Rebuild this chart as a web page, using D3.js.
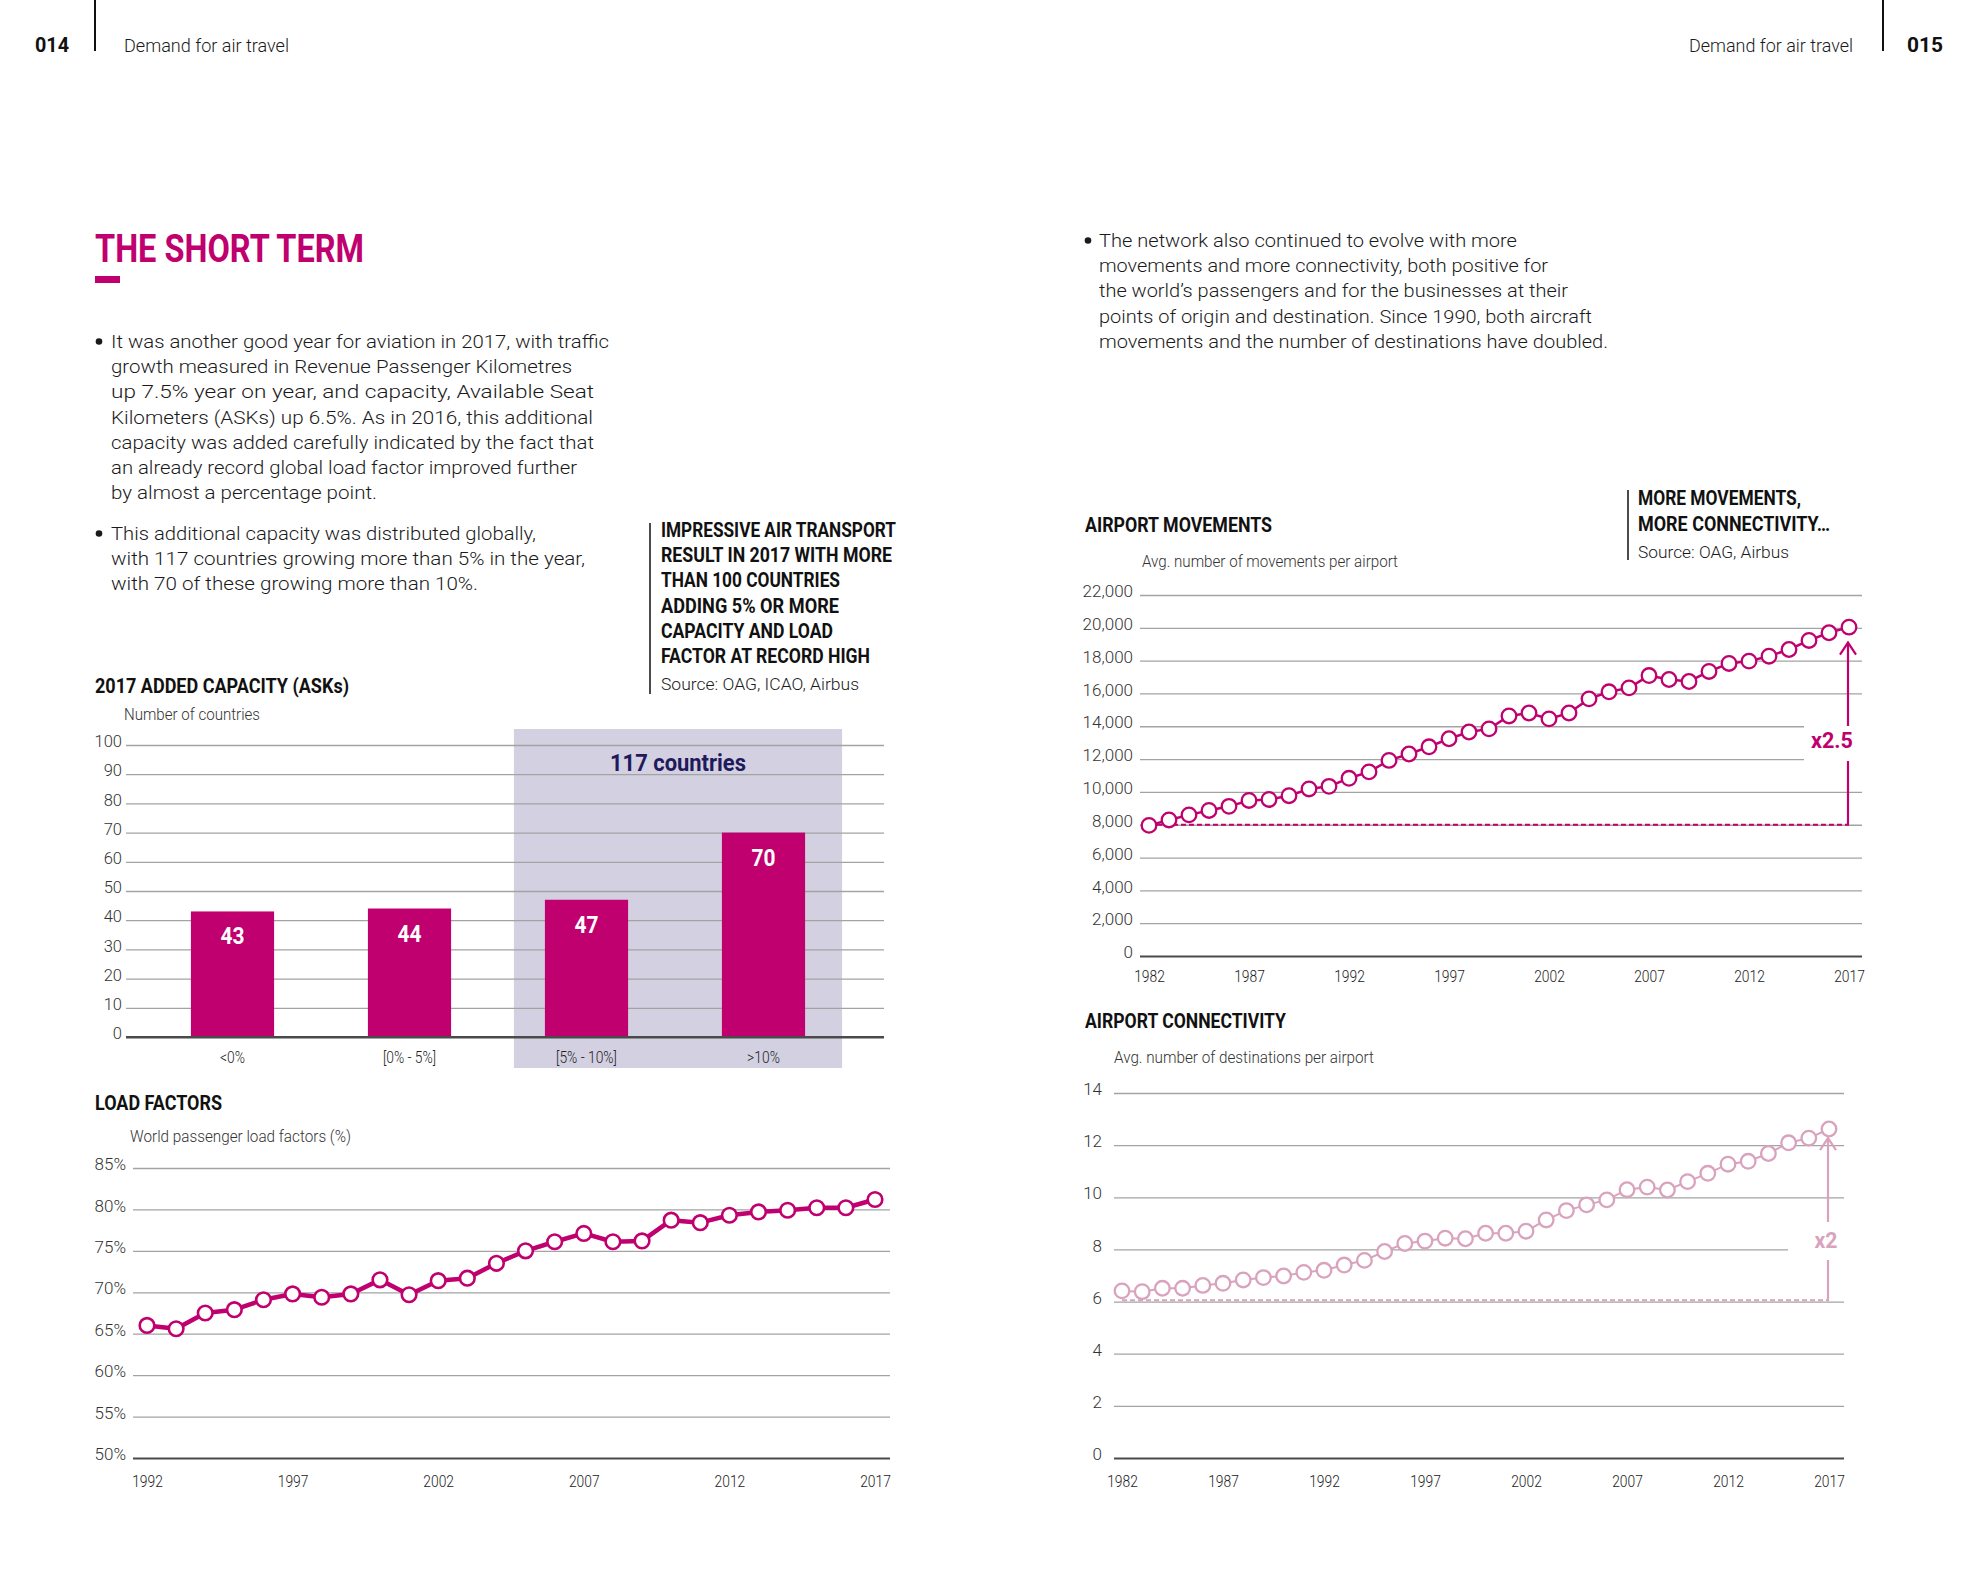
<!DOCTYPE html>
<html><head><meta charset="utf-8">
<script src="https://cdn.jsdelivr.net/npm/d3@7"></script>
<style>
body{margin:0;background:#fff;}
svg{display:block;}
</style></head><body>
<svg id="c" width="1969" height="1575"></svg>
<script>
// ---------- DATA ----------
const barCategories = ["<0%", "[0% - 5%]", "[5% - 10%]", ">10%"];
const barValues = [43, 44, 47, 70];
const barTicks = [0, 10, 20, 30, 40, 50, 60, 70, 80, 90, 100];

const lfYears = [1992,1993,1994,1995,1996,1997,1998,1999,2000,2001,2002,2003,2004,2005,2006,2007,2008,2009,2010,2011,2012,2013,2014,2015,2016,2017];
const lfValues = [66.0,65.6,67.5,67.9,69.1,69.8,69.4,69.8,71.5,69.7,71.4,71.7,73.5,75.0,76.1,77.1,76.1,76.2,78.7,78.4,79.3,79.7,79.9,80.2,80.2,81.2];
const lfTicks = [50, 55, 60, 65, 70, 75, 80, 85];
const lfYearTicks = [1992, 1997, 2002, 2007, 2012, 2017];

const netYears = [1982,1983,1984,1985,1986,1987,1988,1989,1990,1991,1992,1993,1994,1995,1996,1997,1998,1999,2000,2001,2002,2003,2004,2005,2006,2007,2008,2009,2010,2011,2012,2013,2014,2015,2016,2017];
const mvValues = [7960,8290,8600,8870,9120,9480,9540,9770,10180,10340,10830,11220,11920,12310,12750,13240,13650,13840,14630,14810,14450,14810,15670,16100,16340,17090,16850,16730,17340,17830,17970,18270,18680,19230,19700,20040];
const mvTicks = [0, 2000, 4000, 6000, 8000, 10000, 12000, 14000, 16000, 18000, 20000, 22000];
const cnValues = [6.41,6.38,6.51,6.51,6.62,6.70,6.83,6.92,6.98,7.12,7.20,7.40,7.58,7.92,8.23,8.32,8.43,8.41,8.62,8.62,8.70,9.13,9.49,9.71,9.90,10.29,10.39,10.28,10.60,10.92,11.27,11.38,11.68,12.09,12.27,12.62];
const cnTicks = [0, 2, 4, 6, 8, 10, 12, 14];
const netYearTicks = [1982, 1987, 1992, 1997, 2002, 2007, 2012, 2017];

const mvBase = 8000, mvArrowTop = 19100, mvMultiple = "x2.5";
const cnBase = 6.05, cnArrowTop = 12.27, cnMultiple = "x2";

// ---------- STYLE ----------
const MAG = "#c0006e";
const PALE = "#d9a2bd";
const NAVY = "#1f1a5c";
const SHADE = "#d2d0e1";
const LIGHT = "Roboto, 'Liberation Sans', Arial, sans-serif";
const BOLD = "Roboto, 'Liberation Sans', Arial, sans-serif";

const svg = d3.select("#c").append("g");

function T(x, y, str, o = {}) {
  const t = svg.append("text").attr("x", x).attr("y", y).text(str)
    .attr("font-family", o.bold ? BOLD : LIGHT)
    .attr("font-weight", o.bold ? 700 : 300)
    .attr("font-size", o.size || 19)
    .attr("fill", o.fill || "#1a1a1a")
    .attr("text-anchor", o.anchor || "start");
  if (o.w) t.attr("textLength", o.w).attr("lengthAdjust", "spacingAndGlyphs");
  return t;
}

// ---------- PAGE HEADERS ----------
T(35, 52, "014", {bold: true, size: 21, w: 34, fill: "#111"});
svg.append("line").attr("x1", 95).attr("x2", 95).attr("y1", 0).attr("y2", 51).attr("stroke", "#111").attr("stroke-width", 2);
T(124, 52, "Demand for air travel", {size: 19, w: 165});
T(1853, 52, "Demand for air travel", {size: 19, w: 164, anchor: "end"});
svg.append("line").attr("x1", 1883).attr("x2", 1883).attr("y1", 0).attr("y2", 51).attr("stroke", "#111").attr("stroke-width", 2);
T(1907, 52, "015", {bold: true, size: 21, w: 36, fill: "#111"});

// ---------- TITLE ----------
T(95, 262, "THE SHORT TERM", {bold: true, size: 38, w: 269, fill: MAG});
svg.append("rect").attr("x", 95).attr("y", 276).attr("width", 25).attr("height", 7).attr("fill", MAG);

// ---------- BODY TEXT ----------
const bullet1 = [
  ["It was another good year for aviation in 2017, with traffic", 498],
  ["growth measured in Revenue Passenger Kilometres", 461],
  ["up 7.5% year on year, and capacity, Available Seat", 483],
  ["Kilometers (ASKs) up 6.5%. As in 2016, this additional", 482],
  ["capacity was added carefully indicated by the fact that", 483],
  ["an already record global load factor improved further", 466],
  ["by almost a percentage point.", 266]
];
const bullet2 = [
  ["This additional capacity was distributed globally,", 425],
  ["with 117 countries growing more than 5% in the year,", 474],
  ["with 70 of these growing more than 10%.", 367]
];
const bullet3 = [
  ["The network also continued to evolve with more", 418],
  ["movements and more connectivity, both positive for", 449],
  ["the world\u2019s passengers and for the businesses at their", 469],
  ["points of origin and destination. Since 1990, both aircraft", 493],
  ["movements and the number of destinations have doubled.", 509]
];
function bulletBlock(lines, bx, tx, y0) {
  svg.append("circle").attr("cx", bx).attr("cy", y0 - 6.5).attr("r", 3.3).attr("fill", "#1a1a1a");
  lines.forEach((l, i) => T(tx, y0 + i * 25.2, l[0], {size: 19, w: l[1]}));
}
bulletBlock(bullet1, 99, 111, 348);
bulletBlock(bullet2, 99, 111, 540);
bulletBlock(bullet3, 1088, 1099, 247);

// ---------- CALLOUTS ----------
svg.append("line").attr("x1", 650).attr("x2", 650).attr("y1", 523).attr("y2", 694).attr("stroke", "#111").attr("stroke-width", 1.5);
const callout1 = [
  ["IMPRESSIVE AIR TRANSPORT", 235],
  ["RESULT IN 2017 WITH MORE", 231],
  ["THAN 100 COUNTRIES", 179],
  ["ADDING 5% OR MORE", 178],
  ["CAPACITY AND LOAD", 172],
  ["FACTOR AT RECORD HIGH", 209]
];
callout1.forEach((l, i) => T(661, 537 + i * 25.2, l[0], {bold: true, size: 20, w: l[1], fill: "#111"}));
T(661, 690, "Source: OAG, ICAO, Airbus", {size: 16.5, w: 198});

svg.append("line").attr("x1", 1628).attr("x2", 1628).attr("y1", 490).attr("y2", 560).attr("stroke", "#111").attr("stroke-width", 1.5);
T(1638, 505, "MORE MOVEMENTS,", {bold: true, size: 20, w: 163, fill: "#111"});
T(1638, 531, "MORE CONNECTIVITY\u2026", {bold: true, size: 20, w: 192, fill: "#111"});
T(1638, 558, "Source: OAG, Airbus", {size: 16.5, w: 151});

// ---------- AXIS HELPERS ----------
function leftGrid(scale, ticks, x0, x1, pad, fmt, size, color) {
  const ax = d3.axisLeft(scale).tickValues(ticks).tickSize(-(x1 - x0)).tickPadding(pad).tickFormat(fmt);
  const a = svg.append("g").attr("transform", `translate(${x0},0)`).call(ax);
  a.select(".domain").remove();
  a.selectAll(".tick line").attr("stroke", "#a3a3a3").attr("stroke-width", 1.3);
  a.selectAll(".tick").filter(d => d === ticks[0]).select("line").attr("stroke", "#4a4a4a").attr("stroke-width", 2.2);
  a.selectAll(".tick text").attr("font-family", LIGHT).attr("font-weight", 300)
    .attr("font-size", size).attr("fill", color || "#333").attr("dy", "0.1em");
  return a;
}
function bottomLabels(scale, ticks, y, size) {
  const ax = d3.axisBottom(scale).tickValues(ticks).tickSize(0).tickPadding(0).tickFormat(d3.format("d"));
  const a = svg.append("g").attr("transform", `translate(0,${y})`).call(ax);
  a.select(".domain").remove();
  a.selectAll(".tick text").attr("font-family", LIGHT).attr("font-weight", 300)
    .attr("font-size", size).attr("fill", "#222").attr("dy", "0").attr("y", 0)
    .attr("transform", "scale(0.84,1)");
  return a;
}

// ---------- BAR CHART ----------
T(95, 693, "2017 ADDED CAPACITY (ASKs)", {bold: true, size: 20, w: 254, fill: "#111"});
T(124, 720, "Number of countries", {size: 16.5, w: 136, fill: "#333"});

const yBar = d3.scaleLinear().domain([0, 100]).range([1037, 745]);
const xBar = d3.scaleBand().domain(barCategories).range([144, 852]).paddingInner(0.53).paddingOuter(0.265);

svg.append("rect")
  .attr("x", xBar(barCategories[2]) - 31)
  .attr("y", yBar(100) - 16)
  .attr("width", xBar(barCategories[3]) + xBar.bandwidth() + 37 - (xBar(barCategories[2]) - 31))
  .attr("height", yBar(0) + 31 - (yBar(100) - 16))
  .attr("fill", SHADE);
T((xBar(barCategories[2]) - 31 + xBar(barCategories[3]) + xBar.bandwidth() + 37) / 2, 771, "117 countries",
  {bold: true, size: 24, w: 136, fill: NAVY, anchor: "middle"});

leftGrid(yBar, barTicks, 126, 884, 4, d3.format("d"), 16.5);

svg.append("g").selectAll("rect").data(barValues).join("rect")
  .attr("x", (d, i) => xBar(barCategories[i]))
  .attr("y", d => yBar(d))
  .attr("width", xBar.bandwidth())
  .attr("height", d => yBar(0) - yBar(d))
  .attr("fill", MAG);
svg.append("g").selectAll("text").data(barValues).join("text")
  .attr("x", (d, i) => xBar(barCategories[i]) + xBar.bandwidth() / 2)
  .attr("y", d => yBar(d) + 33)
  .attr("text-anchor", "middle").attr("font-family", BOLD).attr("font-weight", 700)
  .attr("font-size", 24).attr("fill", "#fff")
  .attr("textLength", 24).attr("lengthAdjust", "spacingAndGlyphs")
  .text(d => d);
svg.append("line").attr("x1", 126).attr("x2", 884).attr("y1", yBar(0)).attr("y2", yBar(0)).attr("stroke", "#4a4a4a").attr("stroke-width", 2.2);
svg.append("g").selectAll("text").data(barCategories).join("text")
  .attr("transform", d => `translate(${xBar(d) + xBar.bandwidth() / 2},1063) scale(0.84,1)`)
  .attr("text-anchor", "middle").attr("font-family", LIGHT).attr("font-weight", 300)
  .attr("font-size", 16.5).attr("fill", "#222").text(d => d);

// ---------- LOAD FACTORS ----------
T(95, 1110, "LOAD FACTORS", {bold: true, size: 20, w: 127, fill: "#111"});
T(130, 1142, "World passenger load factors (%)", {size: 16.5, w: 221, fill: "#333"});
const xLf = d3.scaleLinear().domain([1992, 2017]).range([147, 875]);
const yLf = d3.scaleLinear().domain([50, 85]).range([1458, 1168]);
leftGrid(yLf, lfTicks, 133, 890, 7, d => d + "%", 17);
bottomLabels(xLf, lfYearTicks, 1487, 16.5);
const lfLine = d3.line().x((d, i) => xLf(lfYears[i])).y(d => yLf(d));
svg.append("path").datum(lfValues).attr("d", lfLine).attr("fill", "none")
  .attr("stroke", MAG).attr("stroke-width", 4.5).attr("stroke-linejoin", "round");
svg.append("g").selectAll("circle").data(lfValues).join("circle")
  .attr("cx", (d, i) => xLf(lfYears[i])).attr("cy", d => yLf(d)).attr("r", 7.3)
  .attr("fill", "#fff").attr("stroke", MAG).attr("stroke-width", 2.6);

// ---------- NETWORK CHARTS ----------
function netChart(opts) {
  const {values, ticks, x0, x1, xr, yr, dom, pad, fmt, color, lineW, base, top, label,
         boxX0, gapTop, gapBot, labelY, labelW, labelX, tickY} = opts;
  const x = d3.scaleLinear().domain([1982, 2017]).range(xr);
  const y = d3.scaleLinear().domain(dom).range(yr);
  leftGrid(y, ticks, x0, x1, pad, fmt, 17);
  bottomLabels(x, netYearTicks, tickY, 16.5);
  svg.append("line").attr("x1", x(1982)).attr("x2", x(2017)).attr("y1", y(base)).attr("y2", y(base))
    .attr("stroke", color).attr("stroke-width", 2).attr("stroke-dasharray", "5,3");
  const ax = x(2017) - 1;
  svg.append("line").attr("x1", ax).attr("x2", ax).attr("y1", y(base)).attr("y2", y(top))
    .attr("stroke", color).attr("stroke-width", 2.2);
  svg.append("path").attr("d", `M${ax - 8},${y(top) + 12}L${ax},${y(top)}L${ax + 8},${y(top) + 12}`)
    .attr("fill", "none").attr("stroke", color).attr("stroke-width", 2.2);
  svg.append("rect").attr("x", boxX0).attr("y", gapTop).attr("width", x1 + 4 - boxX0).attr("height", gapBot - gapTop).attr("fill", "#fff");
  T(labelX, labelY, label, {bold: true, size: 22, w: labelW, fill: color, anchor: "middle"});
  const line = d3.line().x((d, i) => x(netYears[i])).y(d => y(d));
  svg.append("path").datum(values).attr("d", line).attr("fill", "none")
    .attr("stroke", color).attr("stroke-width", lineW);
  svg.append("g").selectAll("circle").data(values).join("circle")
    .attr("cx", (d, i) => x(netYears[i])).attr("cy", d => y(d)).attr("r", 7.3)
    .attr("fill", "#fff").attr("stroke", color).attr("stroke-width", 2.3);
}

T(1085, 532, "AIRPORT MOVEMENTS", {bold: true, size: 20, w: 187, fill: "#111"});
T(1142, 567, "Avg. number of movements per airport", {size: 16.5, w: 256, fill: "#333"});
netChart({values: mvValues, ticks: mvTicks, x0: 1140, x1: 1862, xr: [1149, 1849], yr: [956, 595],
  dom: [0, 22000], pad: 7, fmt: d3.format(","), color: MAG, lineW: 2.5, base: mvBase, top: mvArrowTop,
  label: mvMultiple, boxX0: 1804, gapTop: 726, gapBot: 761, labelY: 748, labelW: 42, labelX: 1832, tickY: 982});

T(1085, 1028, "AIRPORT CONNECTIVITY", {bold: true, size: 20, w: 201, fill: "#111"});
T(1114, 1063, "Avg. number of destinations per airport", {size: 16.5, w: 260, fill: "#333"});
netChart({values: cnValues, ticks: cnTicks, x0: 1114, x1: 1844, xr: [1122, 1829], yr: [1458, 1093],
  dom: [0, 14], pad: 12, fmt: d3.format("d"), color: PALE, lineW: 2, base: cnBase, top: cnArrowTop,
  label: cnMultiple, boxX0: 1788, gapTop: 1222, gapBot: 1260, labelY: 1248, labelW: 23, labelX: 1826, tickY: 1487});
</script>
</body></html>
